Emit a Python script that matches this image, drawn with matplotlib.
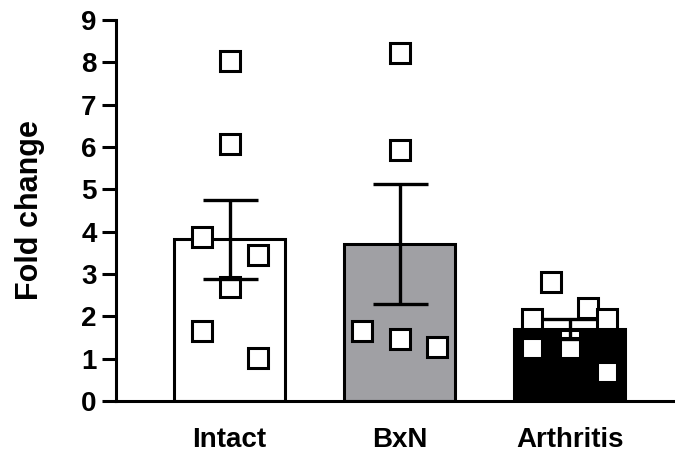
import numpy as np
import matplotlib.pyplot as plt

plt.rcParams['font.family'] = ['Liberation Sans', 'DejaVu Sans']
plt.rcParams['font.weight'] = 'bold'

groups = ["Intact", "BxN", "Arthritis"]
intact = [8.02, 6.07, 3.87, 3.45, 2.70, 1.65, 1.01]
bxn = [8.23, 5.92, 1.66, 1.46, 1.27]
arthritis = [1.45, 2.82, 1.94, 2.19, 1.94, 1.25, 1.25, 0.69]
bar_colors = ["white", "#a0a0a4", "black"]

# horizontal spread of the points inside each column
jitter = [
    [0, 0, -0.165, 0.165, 0, -0.165, 0.165],
    [0, 0, -0.22, 0, 0.22],
    [0, -0.11, -0.22, 0.11, 0.22, -0.22, 0, 0.22],
]

data = [intact, bxn, arthritis]
means = [np.mean(d) for d in data]
sems = [np.std(d, ddof=1) / np.sqrt(len(d)) for d in data]

fig = plt.figure(figsize=(6.75, 4.53), dpi=100)
ax = fig.add_axes([116 / 675, 52 / 453, 559 / 675, 381 / 453])

x = np.arange(len(groups))
ax.bar(x, means, width=0.65, color=bar_colors, edgecolor="black", linewidth=2.2, zorder=1)

for i, vals in enumerate(data):
    ax.plot(x[i] + np.array(jitter[i]), vals, linestyle="none", marker="s",
            markersize=14.4, markerfacecolor="white", markeredgecolor="black",
            markeredgewidth=2.2, zorder=2)

ax.errorbar(x, means, yerr=sems, fmt="none", ecolor="black", elinewidth=2.4,
            capsize=19.8, capthick=2.4, zorder=3)

ax.set_xlim(-0.668, 2.62)
ax.set_ylim(0, 9)
ax.set_yticks(range(0, 10))
ax.set_xticks(x)
ax.set_xticklabels(groups, fontsize=20, fontweight="bold")
ax.tick_params(axis="y", labelsize=20, length=10, width=2.2, pad=4)
ax.tick_params(axis="x", length=0, pad=19)
for lab in ax.get_yticklabels():
    lab.set_fontweight("bold")

ax.spines["top"].set_visible(False)
ax.spines["right"].set_visible(False)
ax.spines["left"].set_linewidth(2.2)
ax.spines["bottom"].set_linewidth(2.2)

ax.set_ylabel("Fold change", fontsize=22, fontweight="bold", labelpad=26)

fig.savefig("out.png", dpi=100)
